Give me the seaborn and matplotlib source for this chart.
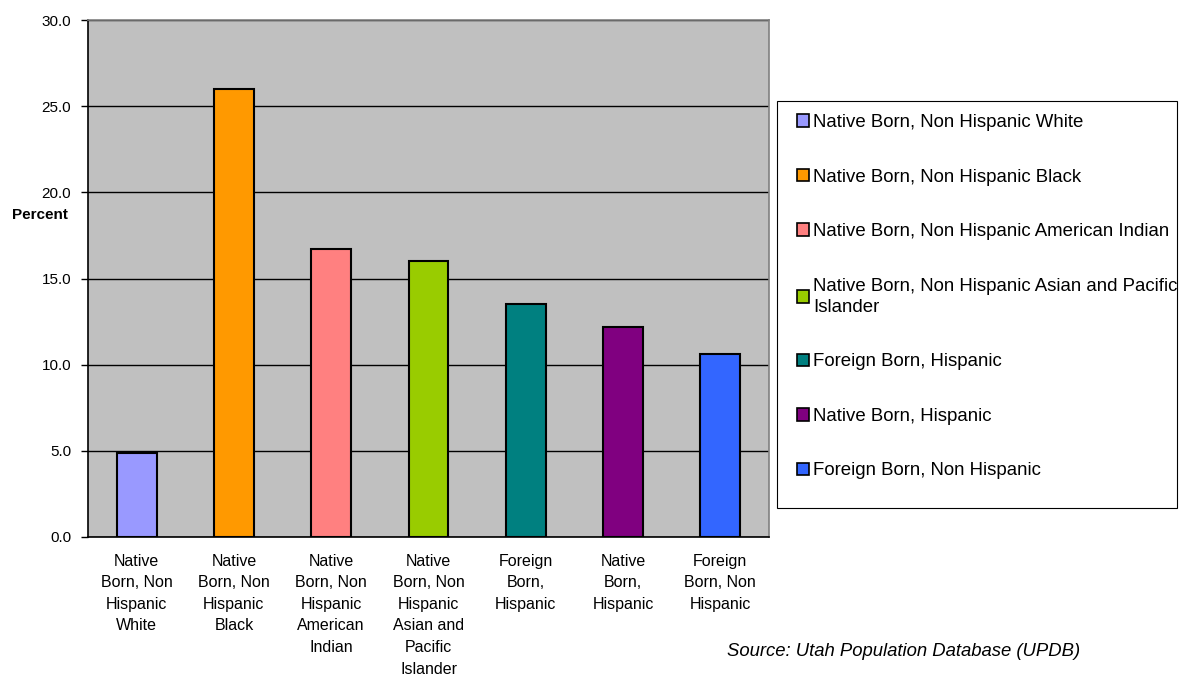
import matplotlib
matplotlib.use("Agg")
import matplotlib.pyplot as plt
import seaborn as sns
import pandas as pd
from matplotlib.patches import Patch, Rectangle

# Chart data
groups = [
    "Native Born, Non Hispanic White",
    "Native Born, Non Hispanic Black",
    "Native Born, Non Hispanic American Indian",
    "Native Born, Non Hispanic Asian and Pacific Islander",
    "Foreign Born, Hispanic",
    "Native Born, Hispanic",
    "Foreign Born, Non Hispanic",
]
tick_labels = [
    "Native\nBorn, Non\nHispanic\nWhite",
    "Native\nBorn, Non\nHispanic\nBlack",
    "Native\nBorn, Non\nHispanic\nAmerican\nIndian",
    "Native\nBorn, Non\nHispanic\nAsian and\nPacific\nIslander",
    "Foreign\nBorn,\nHispanic",
    "Native\nBorn,\nHispanic",
    "Foreign\nBorn, Non\nHispanic",
]
legend_labels = [
    "Native Born, Non Hispanic White",
    "Native Born, Non Hispanic Black",
    "Native Born, Non Hispanic American Indian",
    "Native Born, Non Hispanic Asian and Pacific\nIslander",
    "Foreign Born, Hispanic",
    "Native Born, Hispanic",
    "Foreign Born, Non Hispanic",
]
percent = [4.9, 26.0, 16.7, 16.0, 13.5, 12.2, 10.6]
colors = ["#9999FF", "#FF9900", "#FF8080", "#99CC00", "#008080", "#800080", "#3366FF"]

sns.set_style("white")
plt.rcParams["font.family"] = ["Liberation Sans", "DejaVu Sans"]
plt.rcParams["text.color"] = "black"
plt.rcParams["xtick.color"] = "black"
plt.rcParams["ytick.color"] = "black"

df = pd.DataFrame({"group": groups, "percent": percent})

fig = plt.figure(figsize=(11.82, 6.75), dpi=100)
ax = fig.add_axes([88 / 1182, 1 - 537 / 675, (769 - 88) / 1182, (537 - 20) / 675])
ax.set_facecolor("#C0C0C0")

sns.barplot(data=df, x="group", y="percent", hue="group", palette=colors,
            saturation=1, width=0.41, edgecolor="black", linewidth=1.5,
            legend=False, ax=ax, zorder=3)

# axes and grid
ax.set_ylim(0, 30)
ax.set_xlim(-0.5, len(groups) - 0.5)
ax.set_yticks([0, 5, 10, 15, 20, 25, 30])
ax.set_yticklabels([f"{v:.1f}" for v in [0, 5, 10, 15, 20, 25, 30]], fontsize=11)
ax.yaxis.grid(True, color="black", linewidth=1)
ax.set_axisbelow(True)
ax.set_xticks(range(len(groups)))
ax.set_xticklabels(tick_labels, fontsize=11.5, linespacing=1.55, va="top")
ax.set_xticks([i - 0.5 for i in range(len(groups) + 1)], minor=True)
ax.tick_params(axis="x", which="major", length=0, pad=12)
ax.tick_params(axis="x", which="minor", length=5, width=1, color="black", direction="out")
ax.tick_params(axis="y", length=5, width=1, color="black", direction="out", pad=7, left=True)
ax.set_xlabel("")
ax.set_ylabel("")

for side in ["left", "bottom"]:
    ax.spines[side].set_color("black")
    ax.spines[side].set_linewidth(1.2)
for side in ["top", "right"]:
    ax.spines[side].set_visible(True)
    ax.spines[side].set_color("#808080")
    ax.spines[side].set_linewidth(1.2)

fig.text(40 / 1182, 1 - 215 / 675, "Percent", fontsize=11, fontweight="bold",
         ha="center", va="center")

# legend box drawn separately so it can sit exactly where the original one is
fig.patches.append(Rectangle((777 / 1182, 1 - 508 / 675), 400 / 1182, 407 / 675,
                             transform=fig.transFigure, facecolor="white",
                             edgecolor="black", linewidth=0.8, zorder=1))
handles = [Patch(facecolor=c, edgecolor="black", linewidth=1.2, label=l)
           for c, l in zip(colors, legend_labels)]
leg = fig.legend(handles=handles, loc="upper left",
                 bbox_to_anchor=(797 / 1182, 1 - 114 / 675),
                 fontsize=13.4, frameon=False, handlelength=0.65, handleheight=0.65,
                 handletextpad=0.2, labelspacing=2.02, borderpad=0,
                 borderaxespad=0)
for t in leg.get_texts():
    t.set_linespacing(1.3)

fig.text(727 / 1182, 1 - 652 / 675, "Source: Utah Population Database (UPDB)",
         fontsize=13.3, fontstyle="italic", ha="left", va="center")

fig.savefig("out.png", dpi=100)
